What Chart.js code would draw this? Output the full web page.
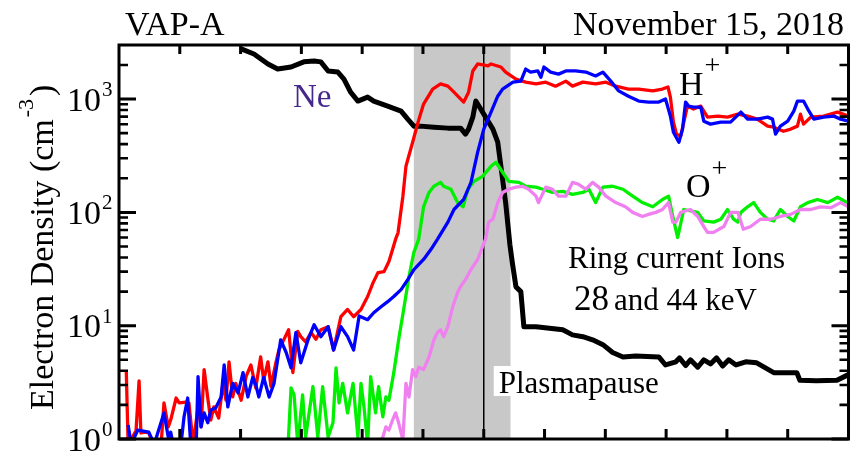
<!DOCTYPE html>
<html>
<head>
<meta charset="utf-8">
<title>VAP-A densities</title>
<script src="https://cdn.jsdelivr.net/npm/chart.js@4/dist/chart.umd.min.js"></script>
<style>
  html, body { margin: 0; padding: 0; background: #fff; }
  #densityChart { display: block; }
</style>
</head>
<body>
<canvas id="densityChart" width="852" height="456"></canvas>
<script>
// time axis in tick units (0..12), densities in cm^-3
var neSeries = [
  [2.01,2770],[2.22,2500],[2.45,2040],[2.61,1840],[2.83,1920],[3.04,2130],[3.21,2170],[3.32,2130],
  [3.44,1770],[3.60,1730],[3.70,1500],[3.81,1150],[3.93,960],[4.09,1040],[4.19,960],[4.42,867],
  [4.64,783],[4.75,665],[4.85,577],[4.96,577],[5.18,565],[5.41,554],[5.62,554],[5.70,490],
  [5.75,543],[5.82,693],[5.87,960],[5.95,816],[6.03,693],[6.15,543],[6.23,416],[6.31,196],
  [6.36,122],[6.40,75],[6.43,52],[6.47,36],[6.53,22],[6.61,20],[6.66,9.8],[6.86,9.8],
  [7.30,9.2],[7.46,8.3],[7.63,8.0],[7.79,7.5],[7.96,6.8],[8.12,5.8],[8.29,5.3],[8.50,5.4],
  [8.88,5.3],[8.99,4.5],[9.16,4.8],[9.22,5.2],[9.32,4.45],[9.40,5.0],[9.52,4.3],[9.62,5.0],
  [9.73,4.6],[9.83,5.2],[9.93,4.4],[10.03,5.0],[10.15,4.5],[10.31,4.8],[10.49,4.7],[10.77,3.85],
  [11.15,3.85],[11.20,3.3],[11.47,3.26],[11.81,3.3],[12.0,3.7]
];

var hPlusA = [
  [0.12,3.9],[0.15,0.9],[0.28,1.18],[0.33,3.26],[0.36,1.13],[0.44,1.15],[0.49,1.13],[0.58,0.85],
  [0.69,0.85],[0.74,2.08],[0.81,1.28],[0.85,1.47],[0.94,2.3],[0.99,2.08],[1.10,2.12],[1.15,2.08],
  [1.22,0.9],[1.30,1.92],[1.35,1.28],[1.40,4.1],[1.46,2.3],[1.51,1.47],[1.56,1.92],[1.64,1.53],
  [1.71,3.1],[1.76,2.2],[1.81,4.8],[1.87,2.35],[1.92,3.1],[2.01,2.2],[2.09,3.55],[2.17,4.5],
  [2.25,2.83],[2.33,5.3],[2.38,3.3],[2.45,4.8],[2.50,2.9],[2.58,4.7],[2.63,6.1],[2.71,7.5],
  [2.79,9.2],[2.86,3.85],[2.94,8.9],[2.99,8.0],[3.07,7.2],[3.16,8.7],[3.24,7.6],[3.32,9.2],
  [3.44,9.8],[3.53,6.1],[3.65,12],[3.76,13.9],[3.86,12],[3.98,13.9],[4.09,18.1],[4.18,24],
  [4.26,29.4],[4.36,30],[4.44,36.8],[4.50,47],[4.55,58],[4.59,66],[4.67,139],[4.72,255],
  [4.83,416],[4.92,626],[5.01,903],[5.16,1225],[5.29,1360],[5.41,1300],[5.51,1150],[5.67,940],
  [5.75,1150],[5.82,1770],[5.90,2040],[6.07,1960],[6.12,2040],[6.28,1920],[6.36,1730],[6.53,1500],
  [6.69,1410],[6.86,1360],[7.02,1410],[7.18,1300],[7.35,1440],[7.46,1300],[7.63,1410],[7.84,1360],
  [8.01,1410],[8.17,1300],[8.38,1225],[8.55,1225],[8.78,1180],[8.94,1225],[9.03,1280],[9.07,1040],
  [9.12,626],[9.17,490],[9.24,471],[9.35,867],[9.45,816],[9.57,867],[9.68,693],[9.85,707],
  [10.01,693],[10.18,736],[10.34,707],[10.50,665],[10.67,577],[10.77,565],[10.93,520],[11.05,543],
  [11.16,577],[11.21,736],[11.26,601],[11.38,693],[11.59,707],[11.82,767],[12.0,707]
];

var hPlusB = [
  [0.15,1.33],[0.20,0.9],[0.31,1.2],[0.49,1.15],[0.58,0.9],[0.74,1.7],[0.81,1.04],[0.85,1.15],
  [0.89,0.9],[1.02,0.9],[1.07,1.57],[1.13,2.3],[1.18,0.9],[1.27,0.9],[1.30,3.55],[1.35,1.28],
  [1.40,1.7],[1.46,1.39],[1.51,1.8],[1.59,1.88],[1.68,2.35],[1.73,4.5],[1.79,1.92],[1.87,3.1],
  [1.96,2.55],[2.04,3.85],[2.12,2.35],[2.20,3.5],[2.25,3.0],[2.30,2.35],[2.38,3.5],[2.47,2.35],
  [2.55,3.1],[2.66,7.5],[2.75,5.8],[2.83,4.25],[2.91,8.7],[2.99,4.7],[3.11,7.5],[3.21,10.2],
  [3.32,8.0],[3.44,9.8],[3.53,6.1],[3.65,9.8],[3.76,8.0],[3.86,6.1],[3.95,12.2],[4.09,11.3],
  [4.19,13.0],[4.31,14.7],[4.42,16.3],[4.52,18.1],[4.64,20.8],[4.75,25.5],[4.85,31.3],[5.01,38.4],
  [5.13,47],[5.24,58],[5.41,82],[5.51,106],[5.67,130],[5.79,184],[5.90,340],[6.00,543],
  [6.12,767],[6.23,1060],[6.31,1225],[6.48,1410],[6.61,1440],[6.69,1840],[6.77,1730],[6.89,1770],
  [6.94,1560],[6.99,1920],[7.10,1730],[7.23,1660],[7.35,1770],[7.51,1770],[7.68,1730],[7.84,1600],
  [7.96,1730],[8.09,1440],[8.22,1180],[8.38,1060],[8.55,960],[8.71,940],[8.88,940],[8.99,1000],
  [9.07,707],[9.12,510],[9.21,416],[9.27,543],[9.32,940],[9.37,867],[9.45,850],[9.57,850],
  [9.62,638],[9.73,601],[9.90,626],[10.06,626],[10.23,767],[10.34,665],[10.50,665],[10.67,693],
  [10.75,665],[10.80,490],[10.88,577],[11.00,638],[11.10,783],[11.16,960],[11.26,960],[11.33,816],
  [11.43,665],[11.59,693],[11.76,707],[11.87,665],[12.0,638]
];

var oPlusA = [
  [2.78,0.85],[2.83,2.83],[2.88,2.45],[2.94,0.9],[3.02,2.45],[3.07,1.04],[3.19,2.9],[3.27,1.04],
  [3.35,2.9],[3.44,1.04],[3.52,1.39],[3.57,4.25],[3.62,2.08],[3.68,3.1],[3.76,1.7],[3.85,3.1],
  [3.93,1.04],[3.98,3.1],[4.03,1.92],[4.09,0.9],[4.14,3.55],[4.22,1.7],[4.27,2.9],[4.34,1.57],
  [4.39,2.35],[4.44,2.2],[4.52,3.85],[4.60,7.5],[4.69,14.7],[4.77,27.1],[4.85,44.1],[4.93,58],
  [5.01,112],[5.10,150],[5.18,170],[5.29,184],[5.34,170],[5.46,160],[5.57,122],[5.66,112],
  [5.74,160],[5.84,188],[5.98,208],[6.12,255],[6.20,277],[6.31,226],[6.41,188],[6.58,184],
  [6.69,170],[6.86,167],[6.97,160],[7.13,150],[7.30,153],[7.46,144],[7.63,150],[7.73,160],
  [7.84,122],[7.96,167],[8.12,170],[8.29,160],[8.45,139],[8.61,122],[8.78,112],[8.94,130],
  [9.04,139],[9.11,92],[9.19,60],[9.29,106],[9.52,100],[9.62,84],[9.78,82],[9.90,87],
  [10.01,106],[10.11,87],[10.18,82],[10.23,100],[10.34,112],[10.44,122],[10.55,100],[10.67,87],
  [10.77,84],[10.88,106],[11.00,92],[11.10,84],[11.21,112],[11.33,122],[11.49,130],[11.66,122],
  [11.82,136],[11.98,122]
];

var oPlusB = [
  [4.22,0.85],[4.34,1.04],[4.39,1.28],[4.44,1.2],[4.50,1.47],[4.55,1.7],[4.60,1.39],[4.67,0.98],
  [4.72,3.1],[4.77,2.35],[4.83,4.1],[4.88,3.55],[4.93,4.3],[5.01,4.1],[5.10,5.3],[5.18,7.5],
  [5.24,8.7],[5.29,9.2],[5.34,8.0],[5.41,9.8],[5.49,14.7],[5.57,19.6],[5.62,22.2],[5.70,25.5],
  [5.79,31.3],[5.90,38.4],[5.98,49.7],[6.03,58],[6.08,82],[6.15,87],[6.23,122],[6.31,150],
  [6.41,160],[6.53,167],[6.64,170],[6.74,160],[6.86,139],[6.90,122],[7.02,167],[7.13,160],
  [7.23,139],[7.35,139],[7.46,184],[7.56,177],[7.68,160],[7.79,184],[7.89,167],[8.01,139],
  [8.17,122],[8.33,112],[8.45,100],[8.61,92],[8.71,96],[8.83,100],[8.94,106],[9.04,122],
  [9.11,82],[9.16,82],[9.24,100],[9.40,106],[9.52,92],[9.62,75],[9.68,66.6],[9.78,66.6],
  [9.95,75],[10.06,100],[10.18,100],[10.27,71],[10.39,75],[10.55,87],[10.72,87],[10.88,92],
  [11.05,96],[11.21,106],[11.38,106],[11.54,112],[11.71,110],[11.87,122],[12.0,112]
];

var xTicks = [1, 2, 3, 4, 5, 6, 7, 8, 9, 10, 11];
var yMajor = [1, 10, 100, 1000];
var yMinor = [2, 3, 4, 5, 6, 7, 8, 9, 20, 30, 40, 50, 60, 70, 80, 90,
              200, 300, 400, 500, 600, 700, 800, 900, 2000];
var shadeRange = [4.85, 6.44];
var plasmapauseT = 6;

var serif = '"Liberation Serif", "Times New Roman", serif';

function toPoints(list) {
  return list.map(function (p) { return { x: p[0], y: p[1] }; });
}

function lineSet(label, list, color, width) {
  return {
    label: label,
    data: toPoints(list),
    borderColor: color,
    borderWidth: width,
    borderJoinStyle: 'round',
    pointRadius: 0,
    tension: 0,
    fill: false
  };
}

// text with a raised, smaller suffix (10^3, H^+ ...)
function supText(ctx, base, sup, x, y, size, supSize, rise) {
  ctx.font = size + 'px ' + serif;
  ctx.fillText(base, x, y);
  var w = ctx.measureText(base).width;
  ctx.font = supSize + 'px ' + serif;
  ctx.fillText(sup, x + w + 1, y - rise);
}

// grey band, plasmapause marker and its label under the curves
var bandPlugin = {
  id: 'band',
  beforeDatasetsDraw: function (chart) {
    var ctx = chart.ctx, xs = chart.scales.x, a = chart.chartArea;
    ctx.save();
    var x0 = xs.getPixelForValue(shadeRange[0]);
    var x1 = xs.getPixelForValue(shadeRange[1]);
    ctx.fillStyle = '#c8c8c8';
    ctx.fillRect(x0, a.top, x1 - x0, a.bottom - a.top);

    var xp = xs.getPixelForValue(plasmapauseT);
    ctx.strokeStyle = '#000';
    ctx.lineWidth = 1.5;
    ctx.beginPath();
    ctx.moveTo(xp, a.top);
    ctx.lineTo(xp, a.bottom);
    ctx.stroke();

    ctx.fillStyle = '#fff';
    ctx.fillRect(xp + 10, a.bottom - 73, 170, 30);
    ctx.fillStyle = '#000';
    ctx.font = '31px ' + serif;
    ctx.textBaseline = 'alphabetic';
    ctx.fillText('Plasmapause', xp + 15, a.bottom - 46);
    ctx.restore();
  }
};

// box frame with inward ticks on all four sides
var framePlugin = {
  id: 'frame',
  afterDatasetsDraw: function (chart) {
    var ctx = chart.ctx, xs = chart.scales.x, ys = chart.scales.y, a = chart.chartArea;
    ctx.save();
    ctx.strokeStyle = '#000';
    ctx.lineCap = 'butt';
    ctx.lineWidth = 3;

    var i, px, py;
    for (i = 0; i < xTicks.length; i++) {
      px = xs.getPixelForValue(xTicks[i]);
      ctx.beginPath();
      ctx.moveTo(px, a.top);
      ctx.lineTo(px, a.top + 9);
      ctx.moveTo(px, a.bottom);
      ctx.lineTo(px, a.bottom - 10);
      ctx.stroke();
    }
    for (i = 0; i < yMajor.length; i++) {
      py = ys.getPixelForValue(yMajor[i]);
      ctx.beginPath();
      ctx.moveTo(a.left, py);
      ctx.lineTo(a.left + 17, py);
      ctx.moveTo(a.right, py);
      ctx.lineTo(a.right - 17, py);
      ctx.stroke();
    }
    ctx.lineWidth = 2.6;
    for (i = 0; i < yMinor.length; i++) {
      py = ys.getPixelForValue(yMinor[i]);
      ctx.beginPath();
      ctx.moveTo(a.left, py);
      ctx.lineTo(a.left + 9, py);
      ctx.moveTo(a.right, py);
      ctx.lineTo(a.right - 9, py);
      ctx.stroke();
    }

    ctx.lineWidth = 3;
    ctx.strokeRect(a.left, a.top, a.right - a.left, a.bottom - a.top);
    ctx.restore();
  }
};

// tick labels, axis title and curve annotations
var textPlugin = {
  id: 'texts',
  afterDraw: function (chart) {
    var ctx = chart.ctx, ys = chart.scales.y, a = chart.chartArea;
    ctx.save();
    ctx.fillStyle = '#000';
    ctx.textAlign = 'left';
    ctx.textBaseline = 'alphabetic';

    yMajor.forEach(function (d) {
      var py = ys.getPixelForValue(d);
      supText(ctx, '10', String(Math.round(Math.log10(d))), a.left - 52, py + 11.5, 34, 21, 14.5);
    });

    ctx.save();
    ctx.translate(53, 410);
    ctx.rotate(-Math.PI / 2);
    ctx.font = '34px ' + serif;
    var main = 'Electron Density (cm';
    ctx.fillText(main, 0, 0);
    var w = ctx.measureText(main).width;
    ctx.font = '22px ' + serif;
    ctx.fillText('-3', w + 2, -20);
    var ws = ctx.measureText('-3').width;
    ctx.font = '34px ' + serif;
    ctx.fillText(')', w + ws + 5, 0);
    ctx.restore();

    ctx.font = '34px ' + serif;
    ctx.fillText('VAP-A', 125, 35);
    ctx.textAlign = 'right';
    ctx.fillText('November 15, 2018', 844, 35);
    ctx.textAlign = 'left';

    ctx.fillStyle = '#45288c';
    ctx.font = '33px ' + serif;
    ctx.fillText('Ne', 293, 107);
    ctx.fillStyle = '#000';
    supText(ctx, 'H', '+', 679, 95, 34, 28, 21);
    supText(ctx, 'O', '+', 686, 197, 34, 28, 20);
    ctx.font = '31px ' + serif;
    ctx.fillText('Ring current Ions', 568, 268);
    ctx.font = '35px ' + serif;
    ctx.fillText('28', 574, 310);
    ctx.font = '31px ' + serif;
    ctx.fillText('and 44 keV', 614, 310);
    ctx.restore();
  }
};

var densityChart = new Chart(document.getElementById('densityChart'), {
  type: 'line',
  data: {
    datasets: [
      lineSet('H+ 44 keV', hPlusB, '#0000ff', 3.3),
      lineSet('H+ 28 keV', hPlusA, '#ff0000', 3.3),
      lineSet('O+ 44 keV', oPlusB, '#f080f0', 3.3),
      lineSet('O+ 28 keV', oPlusA, '#00f000', 3.3),
      lineSet('Ne', neSeries, '#000000', 5)
    ]
  },
  options: {
    responsive: false,
    animation: false,
    devicePixelRatio: 1,
    layout: { padding: { left: 119, right: 3.5, top: 45, bottom: 17 } },
    plugins: {
      legend: { display: false },
      tooltip: { enabled: false }
    },
    scales: {
      x: { type: 'linear', min: 0, max: 12, display: false },
      y: { type: 'logarithmic', min: 1, max: 3000, display: false }
    }
  },
  plugins: [bandPlugin, framePlugin, textPlugin]
});
</script>
</body>
</html>
